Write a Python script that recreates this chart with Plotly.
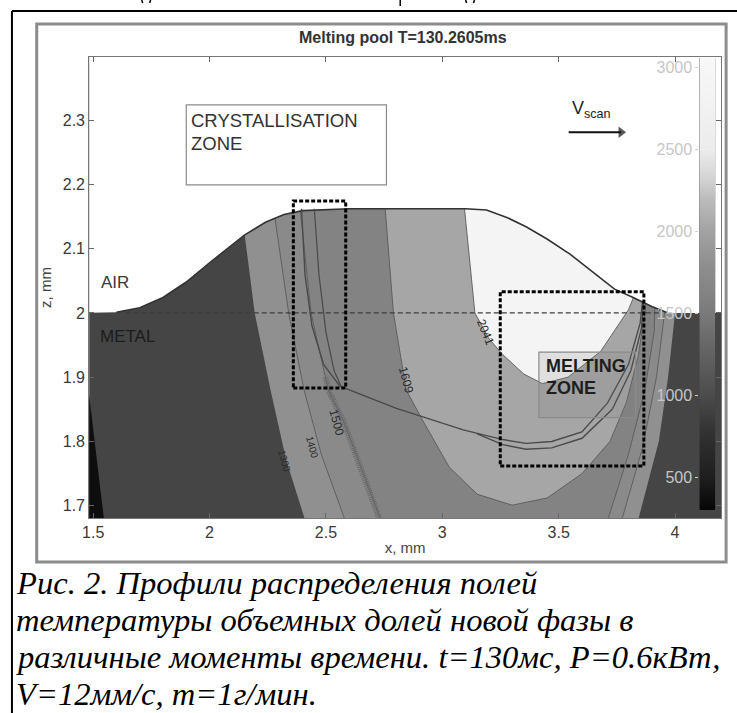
import plotly.graph_objects as go

W, H = 737, 713

# ---------------- axes / ticks ----------------
X_RANGE = [1.483, 4.198]
Z_RANGE = [1.681, 2.398]
X_TICKS = [1.5, 2, 2.5, 3, 3.5, 4]
X_TICKTEXT = ["1.5", "2", "2.5", "3", "3.5", "4"]
Z_TICKS = [1.7, 1.8, 1.9, 2.0, 2.1, 2.2, 2.3]
Z_TICKTEXT = ["1.7", "1.8", "1.9", "2", "2.1", "2.2", "2.3"]

# ---------------- free surface (air / metal interface) ----------------
SURF_X = [1.40, 1.60, 1.70, 1.80, 1.90, 2.00, 2.08, 2.15, 2.24, 2.32, 2.40, 2.60, 2.90,
          3.10, 3.19, 3.28, 3.36, 3.45, 3.55, 3.65, 3.74, 3.82, 3.90, 3.97, 4.30]
SURF_Z = [2.000, 2.001, 2.008, 2.024, 2.048, 2.078, 2.101, 2.121, 2.141, 2.153, 2.159, 2.162, 2.162,
          2.162, 2.160, 2.148, 2.134, 2.115, 2.091, 2.062, 2.037, 2.024, 2.010, 2.000, 2.000]
AIR_TOP = 2.45
BASE_Z = 2.0

# ---------------- temperature zones (boundaries) ----------------
WEDGE_X = [1.47, 1.556, 1.47]
WEDGE_Z = [1.65, 1.65, 1.91]

T1300_LX = [2.12, 2.15, 2.194, 2.262, 2.33, 2.406, 2.43]
T1300_LZ = [2.20, 2.124, 2.00, 1.88, 1.77, 1.683, 1.65]
T1300_RX = [3.83, 3.845, 3.93, 3.97, 4.00, 4.03]
T1300_RZ = [1.65, 1.683, 1.80, 1.90, 2.00, 2.20]

T1400_LX = [2.25, 2.28, 2.34, 2.406, 2.48, 2.577, 2.61]
T1400_LZ = [2.20, 2.15, 2.00, 1.88, 1.78, 1.683, 1.65]
T1400_RX = [3.76, 3.775, 3.86, 3.92, 3.955, 3.98]
T1400_RZ = [1.65, 1.683, 1.79, 1.90, 2.00, 2.20]

T1500_LX = [2.38, 2.39, 2.436, 2.51, 2.577, 2.66, 2.73, 2.76]
T1500_LZ = [2.20, 2.16, 2.00, 1.88, 1.83, 1.75, 1.683, 1.65]
T1500_RX = [3.70, 3.715, 3.80, 3.87, 3.91, 3.93]
T1500_RZ = [1.65, 1.683, 1.78, 1.88, 1.97, 2.20]

T1609_X = [2.74, 2.755, 2.79, 2.845, 2.92, 3.03, 3.15, 3.30, 3.45, 3.60, 3.72, 3.79, 3.84, 3.87, 3.89]
T1609_Z = [2.20, 2.16, 2.00, 1.88, 1.83, 1.76, 1.718, 1.701, 1.712, 1.75, 1.80, 1.86, 1.93, 2.00, 2.20]

T2041_X = [3.08, 3.096, 3.14, 3.20, 3.26, 3.35, 3.43, 3.54, 3.68, 3.80, 3.85, 3.88]
T2041_Z = [2.20, 2.16, 2.00, 1.96, 1.935, 1.905, 1.89, 1.90, 1.94, 2.005, 2.05, 2.20]

HATCH_X = [2.50, 2.51, 2.577, 2.66, 2.73, 2.76]
HATCH_Z = [1.90, 1.88, 1.83, 1.75, 1.683, 1.65]

# melt-pool boundary lines
MELT1_X = [2.395, 2.41, 2.44, 2.49, 2.56, 2.80, 3.09, 3.26, 3.36, 3.47, 3.60, 3.71, 3.80, 3.85, 3.86]
MELT1_Z = [2.162, 2.06, 1.98, 1.92, 1.886, 1.852, 1.818, 1.803, 1.797, 1.800, 1.815, 1.86, 1.92, 1.984, 2.016]
MELT2_X = [3.15, 3.26, 3.36, 3.47, 3.60, 3.73, 3.81, 3.855, 3.865]
MELT2_Z = [1.812, 1.795, 1.788, 1.790, 1.805, 1.85, 1.91, 1.975, 2.016]
MELT3_X = [2.45, 2.47, 2.50, 2.535, 2.565]
MELT3_Z = [2.162, 2.06, 1.97, 1.91, 1.886]

# level line z = 2 (initial substrate)
LEVEL_X = [1.64, 3.94]

# dashed zone frames
CRYST_FRAME_X = [2.36, 2.585]
CRYST_FRAME_Z = [1.883, 2.174]
MELT_FRAME_X = [3.249, 3.866]
MELT_FRAME_Z = [1.762, 2.033]

# label boxes
CRYST_BOX_X = [1.90, 2.76]
CRYST_BOX_Z = [2.199, 2.3235]
MELT_BOX_X = [3.415, 3.83]
MELT_BOX_Z = [1.837, 1.939]

# contour labels
CLAB_TEXT = ["2041", "1609", "1500", "1400", "1300"]
CLAB_X = [3.185, 2.845, 2.547, 2.44, 2.32]
CLAB_Z = [1.97, 1.896, 1.829, 1.79, 1.77]
CLAB_SIZE = [12, 12, 12, 10, 10]

# scan arrow
VSCAN_X = [3.543, 3.768]
VSCAN_Z = 2.281

# colour bar
CB_T = [300, 400, 500, 650, 800, 1000, 1150, 1300, 1500, 1650, 1800, 2000, 2100, 2200,
        2300, 2400, 2500, 2750, 3055]
CB_TICKS = [500, 1000, 1500, 2000, 2500, 3000]
CB_STOP_T = [300, 500, 800, 1000, 1300, 1500, 1800, 2000, 2200, 2350, 2500, 3055]
CB_STOP_C = ["#050505", "#1e1e1e", "#343434", "#4c4c4c", "#666666", "#7a7a7a", "#8f8f8f",
             "#a2a2a2", "#bcbcbc", "#d8d8d8", "#ececec", "#f8f8f8"]

CAPTION = ["Рис. 2. Профили распределения полей",
           "температуры объемных долей новой фазы в",
           "различные моменты времени. t=130мс, P=0.6кВт,",
           "V=12мм/с, m=1г/мин."]

# ---------------------------------------------------------------
def px(x):
    return x / W


def py(y):
    return 1 - y / H


fig = go.Figure()


def poly(xs, zs, color, lw=0.0, lc="#5a5a5a"):
    fig.add_trace(go.Scatter(x=xs + [xs[0]], y=zs + [zs[0]], mode="lines", fill="toself",
                             fillcolor=color, line=dict(color=lc if lw else color, width=lw),
                             hoverinfo="skip", showlegend=False))


def line(xs, zs, color, width, dash="solid"):
    fig.add_trace(go.Scatter(x=xs, y=zs, mode="lines", line=dict(color=color, width=width, dash=dash),
                             hoverinfo="skip", showlegend=False))


poly(WEDGE_X, WEDGE_Z, "#0e0e0e")
poly(T1300_LX + T1300_RX, T1300_LZ + T1300_RZ, "#909090")
poly(T1400_LX + T1400_RX, T1400_LZ + T1400_RZ, "#8a8a8a", 0.9)
poly(T1500_LX + T1500_RX, T1500_LZ + T1500_RZ, "#838383", 0.9)
poly(T1609_X, T1609_Z, "#a6a6a6", 0.9)
poly(T2041_X, T2041_Z, "#f4f4f4", 0.9)
line(HATCH_X, HATCH_Z, "#6a6a6a", 6, "1px,1px")

# air above the free surface
air_x = SURF_X + [SURF_X[-1], SURF_X[0]]
air_z = SURF_Z + [AIR_TOP, AIR_TOP]
poly(air_x, air_z, "#ffffff")
line(SURF_X[1:-1], SURF_Z[1:-1], "#333333", 1.6)

line(LEVEL_X, [BASE_Z, BASE_Z], "#3c3c3c", 1.1, "5px,3px")
line(MELT1_X, MELT1_Z, "#4a4a4a", 1.4)
line(MELT2_X, MELT2_Z, "#4a4a4a", 1.4)
line(MELT3_X, MELT3_Z, "#4a4a4a", 1.2)


def frame(xr, zr, color, width, dash):
    line([xr[0], xr[1], xr[1], xr[0], xr[0]], [zr[0], zr[0], zr[1], zr[1], zr[0]], color, width, dash)


frame(CRYST_FRAME_X, CRYST_FRAME_Z, "#000000", 3, "4px,2px")
frame(MELT_FRAME_X, MELT_FRAME_Z, "#000000", 3, "4px,2px")

# scan-direction arrow
fig.add_trace(go.Scatter(x=VSCAN_X, y=[VSCAN_Z, VSCAN_Z], mode="lines+markers",
                         line=dict(color="#111111", width=1.8),
                         marker=dict(symbol=["line-ew", "triangle-right"], size=[1, 10], color="#111111",
                                     line=dict(width=0)),
                         hoverinfo="skip", showlegend=False))

# colour bar drawn as a heatmap column
span = CB_STOP_T[-1] - CB_STOP_T[0]
cscale = [[(t - CB_STOP_T[0]) / span, c] for t, c in zip(CB_STOP_T, CB_STOP_C)]
fig.add_trace(go.Heatmap(x=[0], y=CB_T, z=[[t] for t in CB_T], colorscale=cscale,
                         zmin=CB_STOP_T[0], zmax=CB_STOP_T[-1], zsmooth="best",
                         showscale=False, hoverinfo="skip", xaxis="x2", yaxis="y2"))

FONT = "Liberation Sans, Arial, sans-serif"
ann = []
shapes = []

# label boxes
shapes.append(dict(type="rect", xref="x", yref="y", x0=CRYST_BOX_X[0], x1=CRYST_BOX_X[1],
                   y0=CRYST_BOX_Z[0], y1=CRYST_BOX_Z[1], line=dict(color="#8a8a8a", width=1.2),
                   fillcolor="#ffffff", layer="above"))
shapes.append(dict(type="rect", xref="x", yref="y", x0=MELT_BOX_X[0], x1=MELT_BOX_X[1],
                   y0=MELT_BOX_Z[0], y1=MELT_BOX_Z[1], line=dict(color="#8a8a8a", width=1.2),
                   fillcolor="rgba(120,120,120,0.16)", layer="above"))

ann += [
    dict(x=CRYST_BOX_X[0] + 0.013, y=2.2986, text="CRYSTALLISATION", xanchor="left",
         font=dict(family=FONT, size=18.5, color="#333333")),
    dict(x=CRYST_BOX_X[0] + 0.013, y=2.264, text="ZONE", xanchor="left",
         font=dict(family=FONT, size=18.5, color="#333333")),
    dict(x=MELT_BOX_X[0] + 0.021, y=1.918, text="<b>MELTING</b>", xanchor="left",
         font=dict(family=FONT, size=18, color="#1e1e1e")),
    dict(x=MELT_BOX_X[0] + 0.021, y=1.883, text="<b>ZONE</b>", xanchor="left",
         font=dict(family=FONT, size=18, color="#1e1e1e")),
    dict(x=1.525, y=2.048, text="AIR", xanchor="left",
         font=dict(family=FONT, size=17, color="#3a3a3a")),
    dict(x=1.52, y=1.963, text="METAL", xanchor="left",
         font=dict(family=FONT, size=17, color="#1c1c1c")),
    dict(x=VSCAN_X[0] + 0.005, y=2.316, text="V<sub>scan</sub>", xanchor="left",
         font=dict(family=FONT, size=18, color="#222222")),
]
for t, x, z, s in zip(CLAB_TEXT, CLAB_X, CLAB_Z, CLAB_SIZE):
    ann.append(dict(x=x, y=z, text=t, textangle=68 if t == "2041" else 75,
                    font=dict(family=FONT, size=s, color="#2a2a2a")))

# paper-level texts
ann += [
    dict(xref="paper", yref="paper", x=px(400), y=py(38), text="<b>Melting pool T=130.2605ms</b>",
         font=dict(family=FONT, size=16, color="#333333")),
]
for i, line_txt in enumerate(CAPTION):
    ann.append(dict(xref="paper", yref="paper", x=px(7), y=py(583 + 37 * i), xanchor="left",
                    text="<i>" + line_txt + "</i>",
                    font=dict(family="Liberation Serif, Times New Roman, serif", size=32.6, color="#000000")))

for a in ann:
    a.setdefault("showarrow", False)
    a.setdefault("xanchor", "center")
    a.setdefault("yanchor", "middle")

# figure frames
shapes += [
    dict(type="rect", xref="paper", yref="paper", x0=px(30), x1=px(726), y0=py(562), y1=py(24),
         line=dict(color="#8c8c8c", width=3), layer="below"),
    dict(type="line", xref="paper", yref="paper", x0=px(5), x1=px(5), y0=py(11), y1=0,
         line=dict(color="#000000", width=2)),
    dict(type="line", xref="paper", yref="paper", x0=px(5), x1=1, y0=py(11), y1=py(11),
         line=dict(color="#000000", width=2)),
]
# descender strokes of the (cut-off) text line above the figure
for x0, x1, y1 in [(136, 137, 3), (145, 144, 3), (397, 397, 6), (463, 464, 3), (472, 471, 3)]:
    shapes.append(dict(type="line", xref="paper", yref="paper", x0=px(x0), x1=px(x1), y0=py(0), y1=py(y1),
                       line=dict(color="#000000", width=1.5)))

fig.update_layout(
    width=W, height=H, margin=dict(l=0, r=0, t=0, b=0),
    paper_bgcolor="#ffffff", plot_bgcolor="#454545",
    showlegend=False, annotations=ann, shapes=shapes,
    xaxis=dict(domain=[px(83), px(721)], range=X_RANGE, tickvals=X_TICKS, ticktext=X_TICKTEXT,
               ticks="inside", ticklen=5, tickcolor="#666666", showgrid=False, zeroline=False,
               showline=True, linecolor="#777777", mirror="ticks",
               tickfont=dict(family=FONT, size=16, color="#3a3a3a"),
               title=dict(text="x, mm", standoff=2, font=dict(family=FONT, size=15, color="#444444"))),
    yaxis=dict(domain=[py(518), py(57)], range=Z_RANGE, tickvals=Z_TICKS, ticktext=Z_TICKTEXT,
               ticks="inside", ticklen=5, tickcolor="#666666", showgrid=False, zeroline=False,
               showline=True, linecolor="#777777", mirror="ticks",
               tickfont=dict(family=FONT, size=16, color="#3a3a3a"),
               title=dict(text="z, mm", standoff=7, font=dict(family=FONT, size=15, color="#444444"))),
    xaxis2=dict(domain=[px(699), px(715)], anchor="y2", range=[-0.5, 0.5], showticklabels=False,
                ticks="", showgrid=False, zeroline=False, showline=False),
    yaxis2=dict(domain=[py(510), py(58)], anchor="x2", side="left", range=[CB_T[0], CB_T[-1]],
                tickvals=CB_TICKS, ticks="outside", ticklen=3, tickcolor="#cfcfcf",
                showgrid=False, zeroline=False, showline=False,
                tickfont=dict(family=FONT, size=16, color="#c6c6c6")),
)

fig.write_html("out.html")
